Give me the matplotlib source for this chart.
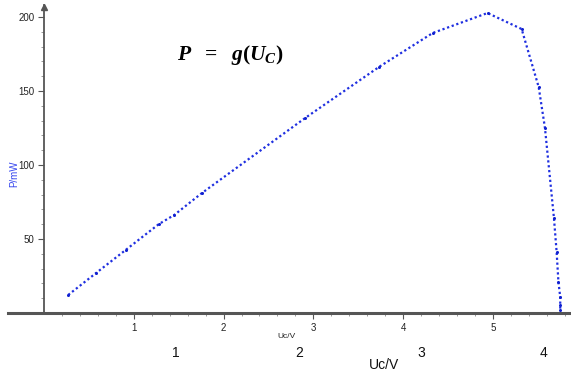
import matplotlib
matplotlib.use("Agg")
import matplotlib.pyplot as plt
from matplotlib.ticker import FixedLocator
import numpy as np

plt.rcParams['mathtext.fontset'] = 'custom'
plt.rcParams['mathtext.rm'] = 'Liberation Serif:bold'
plt.rcParams['mathtext.it'] = 'Liberation Serif:bold:italic'
plt.rcParams['font.family'] = ['Liberation Sans', 'DejaVu Sans']

# Data
uc = [0.27, 0.58, 0.91, 1.28, 1.45, 1.76, 2.91, 3.73, 4.33, 4.94, 5.32,
      5.51, 5.58, 5.68, 5.71, 5.73, 5.75, 5.75, 5.75]
p = [12.2, 27.0, 42.6, 60.1, 66.2, 81.1, 131.8, 166.2, 189.2, 202.7, 191.9,
     152.7, 125.0, 64.2, 41.2, 20.9, 10.8, 5.4, 2.0]
x_ticks = [1, 2, 3, 4, 5]
y_ticks = [50, 100, 150, 200]
second_row_labels = ["1", "2", "3", "4"]
second_row_px = [176, 299, 421, 543]

W, H = 571, 375
fig = plt.figure(figsize=(W / 100, H / 100), dpi=100)
ax = fig.add_axes([0, 0, 1, 1])
ax.set_xlim(-0.49, 5.87)
ax.set_ylim(-41.9, 211.5)

axis_col = '#555555'
for s in ['top', 'right']:
    ax.spines[s].set_visible(False)
ax.spines['left'].set_position(('data', 0))
ax.spines['bottom'].set_position(('data', 0))
ax.spines['left'].set_bounds(0, 208)
ax.spines['bottom'].set_bounds(-0.4, 5.87)
ax.spines['left'].set_color(axis_col)
ax.spines['bottom'].set_color(axis_col)
ax.spines['left'].set_linewidth(1.3)
ax.spines['bottom'].set_linewidth(2.2)
ax.plot([0], [207], marker='^', color=axis_col, markersize=4, clip_on=False)

ax.set_xticks(x_ticks)
ax.set_xticklabels([str(v) for v in x_ticks])
ax.set_yticks(y_ticks)
ax.set_yticklabels([str(v) for v in y_ticks])
ax.xaxis.set_minor_locator(FixedLocator(np.arange(0.2, 5.81, 0.2)))
ax.yaxis.set_minor_locator(FixedLocator(np.arange(10, 201, 10)))
ax.tick_params(axis='both', which='major', length=4, width=0.8, color=axis_col,
               labelsize=7, labelcolor='#222222', pad=3)
ax.tick_params(axis='both', which='minor', length=2, width=0.6, color='#888888')

ax.plot(uc, p, linestyle=(0, (1, 1.2)), linewidth=1.6, color='#1f2fe0',
        marker='o', markersize=2.2, markeredgewidth=0, markerfacecolor='#1020d0')

fig.text(177 / W, 1 - 55 / H, r'$P\ \ =\ \ g(U_C)$', fontsize=15.5, ha='left', va='center')

fig.text(14 / W, 1 - 174 / H, 'P/mW', rotation=90, color='#3344ee', fontsize=7,
         ha='center', va='center')
fig.text(286 / W, 1 - 337 / H, 'Uc/V', fontsize=6, color='#222222', ha='center', va='center')
for lab, px in zip(second_row_labels, second_row_px):
    fig.text(px / W, 1 - 353 / H, lab, fontsize=10, color='#111111', ha='center', va='center')
fig.text(384 / W, 1 - 365 / H, 'Uc/V', fontsize=10, color='#111111', ha='center', va='center')

fig.savefig('out.png', dpi=100, facecolor='white')
